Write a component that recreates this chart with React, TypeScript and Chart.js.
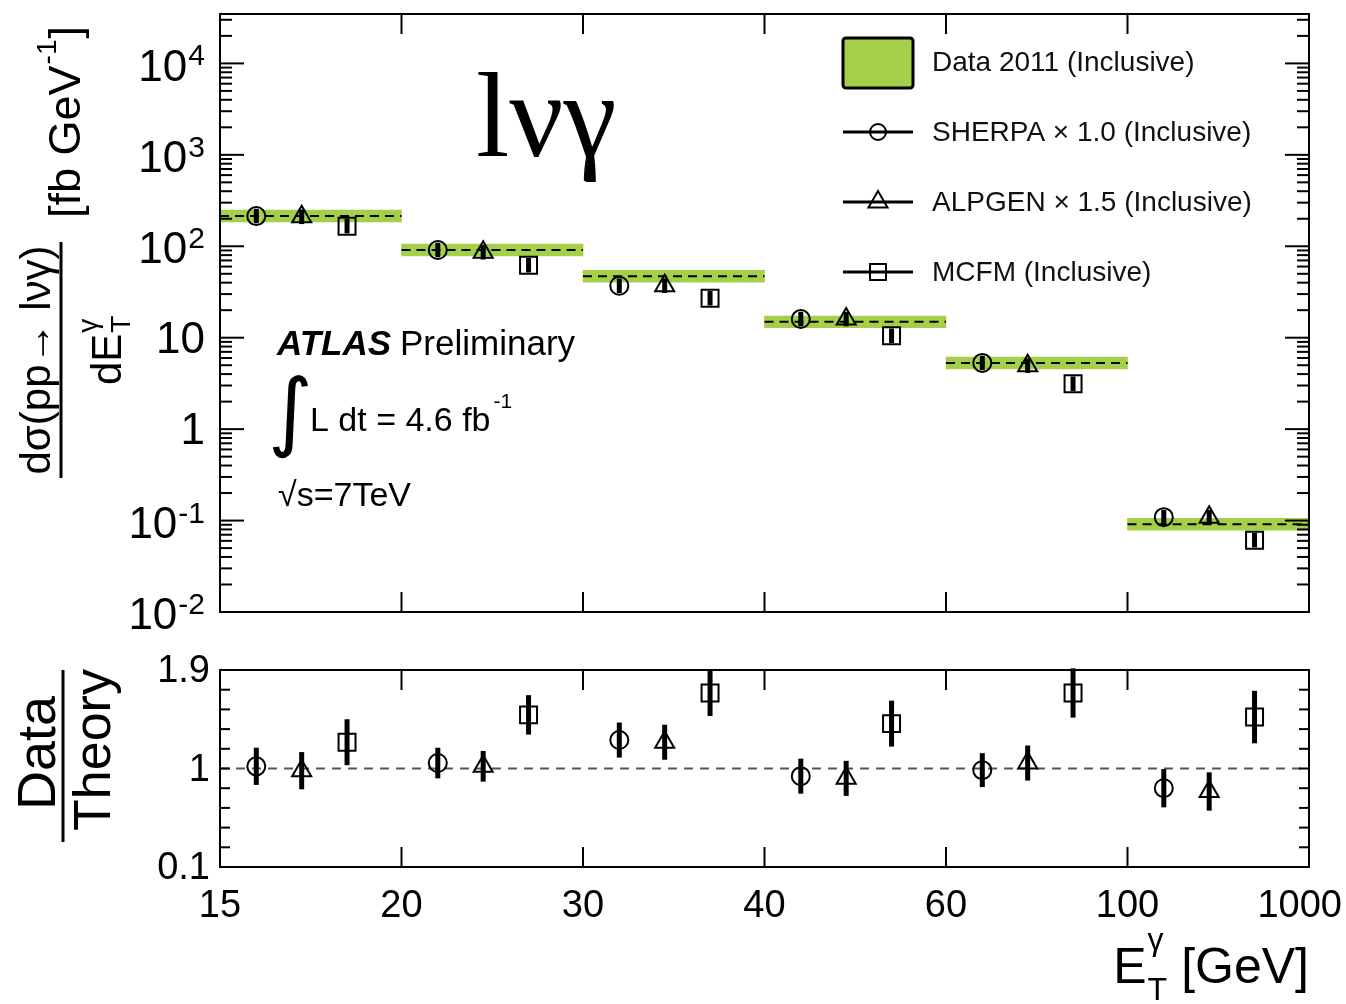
import React, { useEffect, useRef } from 'react';
import { Chart, registerables } from 'chart.js';

Chart.register(...registerables);

// ---------------- data ----------------
const binEdgeLabels = ['15', '20', '30', '40', '60', '100', '1000'];
const dataXsec = [214, 91, 47, 14.9, 5.3, 0.091];
const dataBandFactor = [1.16, 1.16, 1.16, 1.16, 1.16, 1.16];
const sherpaXsec = [214, 91, 37, 16, 5.3, 0.109];
const alpgenXsec = [210, 86, 37, 16, 4.94, 0.109];
const mcfmXsec = [166, 62, 27, 10.5, 3.14, 0.061];
const theoryErrFactor = [1.2, 1.2, 1.2, 1.2, 1.2, 1.2];

const ratioSherpa = [1.02, 1.05, 1.26, 0.93, 0.985, 0.82];
const ratioSherpaErr = [0.17, 0.14, 0.16, 0.16, 0.155, 0.175];
const ratioAlpgen = [0.98, 1.02, 1.24, 0.91, 1.05, 0.79];
const ratioAlpgenErr = [0.17, 0.14, 0.16, 0.16, 0.16, 0.175];
const ratioMcfm = [1.24, 1.49, 1.69, 1.41, 1.69, 1.47];
const ratioMcfmErr = [0.21, 0.18, 0.21, 0.21, 0.225, 0.24];

const modelOffsets = [0.2, 0.45, 0.7];
const topDecades = [-2, -1, 0, 1, 2, 3, 4];
const ratioLabels = ['0.1', '1', '1.9'];
const ratioLabelValues = [0.1, 1, 1.9];
const ratioTickValues = [0.1, 0.28, 0.46, 0.64, 0.82, 1.0, 1.18, 1.36, 1.54, 1.72, 1.9];

const legendItems = [
  'Data 2011 (Inclusive)',
  'SHERPA \u00d7 1.0 (Inclusive)',
  'ALPGEN \u00d7 1.5 (Inclusive)',
  'MCFM (Inclusive)',
];

// ---------------- styles ----------------
const W = 1346;
const H = 1004;
const GREEN = '#a4cf48';
const SANS = '"Liberation Sans", Arial, Helvetica, sans-serif';
const SERIF = '"Liberation Serif", "Times New Roman", serif';

function seg(ctx: any, x1: number, y1: number, x2: number, y2: number) {
  ctx.beginPath();
  ctx.moveTo(x1, y1);
  ctx.lineTo(x2, y2);
  ctx.stroke();
}

const errorBarPlugin = {
  id: 'errorBars',
  afterDatasetsDraw(chart: any) {
    const { ctx } = chart;
    const ys = chart.scales.y;
    ctx.save();
    ctx.strokeStyle = '#000';
    ctx.lineWidth = 5;
    ctx.lineCap = 'butt';
    chart.data.datasets.forEach((ds: any, di: number) => {
      if (!ds.errLow) return;
      const meta = chart.getDatasetMeta(di);
      meta.data.forEach((pt: any, i: number) => {
        const yl = ys.getPixelForValue(ds.errLow[i]);
        const yh = ys.getPixelForValue(ds.errHigh[i]);
        seg(ctx, pt.x, yl, pt.x, yh);
      });
    });
    ctx.restore();
  },
};

function drawXTicks(ctx: any, chart: any) {
  const a = chart.chartArea;
  const xs = chart.scales.x;
  for (let i = 1; i < binEdgeLabels.length - 1; i++) {
    const px = xs.getPixelForValue(i);
    seg(ctx, px, a.bottom, px, a.bottom - 20);
    seg(ctx, px, a.top, px, a.top + 20);
  }
}

function drawRotated(ctx: any, cx: number, cy: number, fn: () => void) {
  ctx.save();
  ctx.translate(cx, cy);
  ctx.rotate(-Math.PI / 2);
  fn();
  ctx.restore();
}

const topDecor = {
  id: 'topDecor',
  afterDraw(chart: any) {
    const { ctx } = chart;
    const a = chart.chartArea;
    const ys = chart.scales.y;
    ctx.save();
    ctx.strokeStyle = '#000';
    ctx.fillStyle = '#000';
    ctx.lineWidth = 2;
    drawXTicks(ctx, chart);
    // log ticks
    for (const e of topDecades) {
      for (let m = 1; m <= 9; m++) {
        const v = m * Math.pow(10, e);
        if (v < ys.min || v > ys.max) continue;
        const py = ys.getPixelForValue(v);
        const len = m === 1 ? 24 : 12;
        seg(ctx, a.left, py, a.left + len, py);
        seg(ctx, a.right, py, a.right - len, py);
      }
    }
    ctx.strokeRect(a.left, a.top, a.right - a.left, a.bottom - a.top);

    // tick labels
    const right = a.left - 15;
    for (const e of topDecades) {
      const py = ys.getPixelForValue(Math.pow(10, e));
      if (e === 0 || e === 1) {
        ctx.font = `44px ${SANS}`;
        ctx.textAlign = 'right';
        ctx.textBaseline = 'middle';
        ctx.fillText(e === 0 ? '1' : '10', right, py + 3);
      } else {
        const sup = String(e);
        ctx.font = `30px ${SANS}`;
        const w = ctx.measureText(sup).width;
        ctx.textAlign = 'left';
        ctx.textBaseline = 'alphabetic';
        ctx.fillText(sup, right - w, py + 2);
        ctx.font = `44px ${SANS}`;
        ctx.textAlign = 'right';
        ctx.textBaseline = 'middle';
        ctx.fillText('10', right - w - 1, py + 5);
      }
    }

    // y title (rotated fraction)
    ctx.textBaseline = 'alphabetic';
    drawRotated(ctx, 50, 360, () => {
      ctx.font = `42px ${SANS}`;
      ctx.textAlign = 'center';
      ctx.fillText('d\u03c3(pp\u2192 l\u03bd\u03b3)', 0, 0);
    });
    ctx.lineWidth = 3;
    seg(ctx, 61, 478, 61, 242);
    drawRotated(ctx, 121, 385, () => {
      ctx.font = `42px ${SANS}`;
      ctx.textAlign = 'left';
      ctx.fillText('dE', 0, 0);
      const w = ctx.measureText('dE').width;
      ctx.font = `28px ${SANS}`;
      ctx.fillText('T', w + 1, 9);
      ctx.fillText('\u03b3', w + 1, -24);
    });
    drawRotated(ctx, 80, 218, () => {
      ctx.font = `45px ${SANS}`;
      ctx.textAlign = 'left';
      const t1 = '[fb GeV';
      ctx.fillText(t1, 0, 0);
      let w = ctx.measureText(t1).width;
      ctx.font = `28px ${SANS}`;
      ctx.fillText('-1', w + 1, -24);
      w += ctx.measureText('-1').width + 2;
      ctx.font = `45px ${SANS}`;
      ctx.fillText(']', w, 0);
    });

    // channel label
    ctx.textAlign = 'left';
    ctx.font = `120px ${SERIF}`;
    ctx.fillText('l\u03bd\u03b3', 476, 156);

    // ATLAS label
    ctx.font = `italic bold 35px ${SANS}`;
    ctx.fillText('ATLAS', 277, 355);
    ctx.font = `35px ${SANS}`;
    ctx.fillText('Preliminary', 400, 355);
    ctx.font = `86px "DejaVu Sans", ${SANS}`;
    ctx.fillText('\u222b', 268, 440);
    ctx.font = `34px ${SANS}`;
    const lum = 'L dt = 4.6 fb';
    ctx.fillText(lum, 310, 431);
    const lw = ctx.measureText(lum).width;
    ctx.font = `21px ${SANS}`;
    ctx.fillText('-1', 310 + lw + 3, 408);
    ctx.font = `34px ${SANS}`;
    ctx.fillText('\u221as=7TeV', 278, 506);

    // legend
    const lx0 = 843;
    const lx1 = 913;
    const lmid = 878;
    const textX = 932;
    const rows = [62, 132, 202, 272];
    ctx.fillStyle = GREEN;
    ctx.beginPath();
    ctx.roundRect(lx0, 38, lx1 - lx0, 50, 3);
    ctx.fill();
    ctx.lineWidth = 3;
    ctx.strokeStyle = '#000';
    ctx.stroke();
    ctx.lineWidth = 3;
    for (let k = 1; k < 4; k++) seg(ctx, lx0, rows[k], lx1, rows[k]);
    ctx.lineWidth = 2;
    ctx.beginPath();
    ctx.arc(lmid, rows[1], 8, 0, Math.PI * 2);
    ctx.stroke();
    const tr = 11;
    ctx.beginPath();
    ctx.moveTo(lmid, rows[2] - tr);
    ctx.lineTo(lmid + tr * 0.866, rows[2] + tr / 2);
    ctx.lineTo(lmid - tr * 0.866, rows[2] + tr / 2);
    ctx.closePath();
    ctx.stroke();
    ctx.strokeRect(lmid - 8, rows[3] - 8, 16, 16);
    ctx.fillStyle = '#111';
    ctx.font = `28px ${SANS}`;
    ctx.textBaseline = 'middle';
    ctx.textAlign = 'left';
    legendItems.forEach((t, k) => ctx.fillText(t, textX, rows[k] + 1));
    ctx.restore();
  },
};

const bottomDecor = {
  id: 'bottomDecor',
  afterDraw(chart: any) {
    const { ctx } = chart;
    const a = chart.chartArea;
    const xs = chart.scales.x;
    const ys = chart.scales.y;
    ctx.save();
    ctx.strokeStyle = '#000';
    ctx.fillStyle = '#000';
    ctx.lineWidth = 2;
    drawXTicks(ctx, chart);
    for (const v of ratioTickValues) {
      const py = ys.getPixelForValue(v);
      seg(ctx, a.left, py, a.left + 10, py);
      seg(ctx, a.right, py, a.right - 10, py);
    }
    ctx.strokeRect(a.left, a.top, a.right - a.left, a.bottom - a.top);

    // y labels
    ctx.font = `38px ${SANS}`;
    ctx.textAlign = 'right';
    ctx.textBaseline = 'middle';
    ratioLabels.forEach((t, k) => {
      ctx.fillText(t, a.left - 10, ys.getPixelForValue(ratioLabelValues[k]) + 2);
    });

    // x labels
    ctx.textAlign = 'center';
    binEdgeLabels.forEach((t, i) => {
      const px = xs.getPixelForValue(i);
      const w = ctx.measureText(t).width;
      const cx = Math.min(px, W - w / 2 - 4);
      ctx.fillText(t, cx, a.bottom + 40);
    });

    // x title
    ctx.textBaseline = 'alphabetic';
    ctx.textAlign = 'right';
    ctx.font = `50px ${SANS}`;
    const unit = '[GeV]';
    ctx.fillText(unit, a.right, 983);
    let xr = a.right - ctx.measureText(unit).width - 14;
    ctx.font = `32px ${SANS}`;
    const tw = Math.max(ctx.measureText('T').width, ctx.measureText('\u03b3').width);
    ctx.textAlign = 'left';
    ctx.fillText('T', xr - tw, 1000);
    ctx.fillText('\u03b3', xr - tw, 950);
    xr -= tw + 1;
    ctx.font = `50px ${SANS}`;
    ctx.textAlign = 'right';
    ctx.fillText('E', xr, 983);

    // y title
    ctx.textAlign = 'center';
    drawRotated(ctx, 55, 753, () => {
      ctx.font = `54px ${SANS}`;
      ctx.fillText('Data', 0, 0);
    });
    ctx.lineWidth = 3;
    seg(ctx, 63, 842, 63, 670);
    drawRotated(ctx, 110, 750, () => {
      ctx.font = `52px ${SANS}`;
      ctx.fillText('Theory', 0, 0);
    });
    ctx.restore();
  },
};

function modelPoints(values: number[], k: number) {
  return values.map((v, i) => ({ x: i + modelOffsets[k], y: v }));
}

const markerStyles = [
  { pointStyle: 'circle', pointRadius: 9 },
  { pointStyle: 'triangle', pointRadius: 11 },
  { pointStyle: 'rect', pointRadius: 12 },
];

function markerDataset(label: string, values: number[], k: number, lo: number[], hi: number[]) {
  return {
    type: 'line',
    label,
    data: modelPoints(values, k),
    showLine: false,
    pointStyle: markerStyles[k].pointStyle,
    pointRadius: markerStyles[k].pointRadius,
    pointBorderWidth: 2,
    pointBorderColor: '#000',
    pointBackgroundColor: 'rgba(0,0,0,0)',
    borderColor: '#000',
    order: 0,
    errLow: lo,
    errHigh: hi,
  };
}

function topConfig(): any {
  const dashData: any[] = [];
  dataXsec.forEach((v, i) => {
    dashData.push({ x: i, y: v }, { x: i + 1, y: v }, { x: i + 1, y: null });
  });
  const models = [sherpaXsec, alpgenXsec, mcfmXsec];
  const names = ['SHERPA', 'ALPGEN', 'MCFM'];
  return {
    type: 'bar',
    data: {
      datasets: [
        {
          type: 'bar',
          label: 'Data 2011 (Inclusive)',
          data: dataXsec.map((v, i) => ({ x: i + 0.5, y: [v / dataBandFactor[i], v * dataBandFactor[i]] })),
          backgroundColor: GREEN,
          borderWidth: 0,
          barPercentage: 1,
          categoryPercentage: 1,
          grouped: false,
          order: 5,
        },
        {
          type: 'line',
          label: 'data line',
          data: dashData,
          borderColor: '#000',
          borderWidth: 2,
          borderDash: [9, 6],
          pointRadius: 0,
          spanGaps: false,
          order: 4,
        },
        ...models.map((vals, k) =>
          markerDataset(
            names[k],
            vals,
            k,
            vals.map((v, i) => v / theoryErrFactor[i]),
            vals.map((v, i) => v * theoryErrFactor[i]),
          ),
        ),
      ],
    },
    options: {
      responsive: false,
      animation: false,
      events: [],
      layout: { padding: { left: 220, right: 37, top: 12, bottom: H - 612 } },
      scales: {
        x: { type: 'linear', min: 0, max: 6, offset: false, display: false, ticks: { stepSize: 1 } },
        y: { type: 'logarithmic', min: 0.01, max: 34700, display: false },
      },
      plugins: { legend: { display: false }, tooltip: { enabled: false } },
    },
    plugins: [errorBarPlugin, topDecor],
  };
}

function bottomConfig(): any {
  const ratios = [ratioSherpa, ratioAlpgen, ratioMcfm];
  const errs = [ratioSherpaErr, ratioAlpgenErr, ratioMcfmErr];
  const names = ['SHERPA', 'ALPGEN', 'MCFM'];
  return {
    type: 'line',
    data: {
      datasets: [
        {
          type: 'line',
          label: 'unity',
          data: [
            { x: 0, y: 1 },
            { x: 6, y: 1 },
          ],
          borderColor: '#555',
          borderWidth: 2,
          borderDash: [9, 7],
          pointRadius: 0,
          order: 4,
        },
        ...ratios.map((vals, k) =>
          markerDataset(
            names[k],
            vals,
            k,
            vals.map((v, i) => v - errs[k][i]),
            vals.map((v, i) => v + errs[k][i]),
          ),
        ),
      ],
    },
    options: {
      responsive: false,
      animation: false,
      events: [],
      layout: { padding: { left: 220, right: 37, top: 670, bottom: H - 867 } },
      scales: {
        x: { type: 'linear', min: 0, max: 6, offset: false, display: false, ticks: { stepSize: 1 } },
        y: { type: 'linear', min: 0.1, max: 1.9, display: false },
      },
      plugins: { legend: { display: false }, tooltip: { enabled: false } },
    },
    plugins: [errorBarPlugin, bottomDecor],
  };
}

export default function App() {
  const topRef = useRef<HTMLCanvasElement>(null);
  const botRef = useRef<HTMLCanvasElement>(null);
  useEffect(() => {
    const c1 = new Chart(topRef.current as HTMLCanvasElement, topConfig());
    const c2 = new Chart(botRef.current as HTMLCanvasElement, bottomConfig());
    return () => {
      c1.destroy();
      c2.destroy();
    };
  }, []);
  return (
    <div style={{ position: 'absolute', left: 0, top: 0, width: W, height: H, background: '#fff' }}>
      <canvas ref={topRef} width={W} height={H} style={{ position: 'absolute', left: 0, top: 0 }} />
      <canvas ref={botRef} width={W} height={H} style={{ position: 'absolute', left: 0, top: 0 }} />
    </div>
  );
}
